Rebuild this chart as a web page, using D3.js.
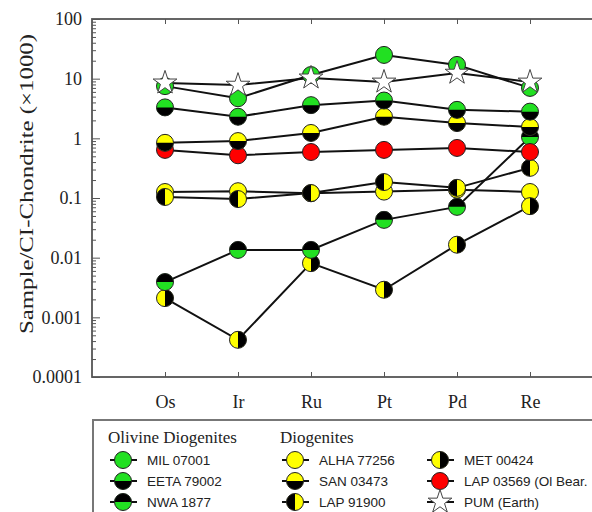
<!DOCTYPE html>
<html>
<head>
<meta charset="utf-8">
<style>
  body { margin: 0; background: #fff; }
  svg { display: block; }
</style>
</head>
<body>
<svg width="592" height="512"></svg>
<script src="https://d3js.org/d3.v7.min.js"></script>
<script>

// element order (x categories)
const elements = ["Os", "Ir", "Ru", "Pt", "Pd", "Re"];
const yTickValues = [0.0001, 0.001, 0.01, 0.1, 1, 10, 100];
const yTickLabels = ["0.0001", "0.001", "0.01", "0.1", "1", "10", "100"];

// values (sample / CI chondrite x1000)
const mil07001 = [7.5, 4.7, 11.5, 25, 17, 7];
const eeta79002 = [3.3, 2.3, 3.6, 4.3, 3.0, 2.8];
const nwa1877 = [0.0039, 0.0135, 0.0135, 0.043, 0.071, 1.05];
const alha77256 = [0.126, 0.13, 0.12, 0.128, 0.138, 0.126];
const san03473 = [0.84, 0.9, 1.23, 2.3, 1.8, 1.55];
const lap91900 = [0.104, 0.096, 0.121, 0.185, 0.148, 0.32];
const met00424 = [0.0021, 0.00042, 0.0081, 0.0029, 0.0165, 0.073];
const lap03569 = [0.64, 0.52, 0.59, 0.64, 0.69, 0.59];
const pum = [8.5, 7.8, 10.3, 8.8, 12.4, 8.8];

const GREEN = "#22e022", YELLOW = "#ffff00", RED = "#ff0000", BLACK = "#000";

// marker styles: base fill + optional half in another colour
const series = [
  {name: "ALHA 77256", values: alha77256, fill: YELLOW},
  {name: "MET 00424", values: met00424, fill: YELLOW, half: "right", halfFill: BLACK},
  {name: "LAP 91900", values: lap91900, fill: YELLOW, half: "left", halfFill: BLACK},
  {name: "NWA 1877", values: nwa1877, fill: GREEN, half: "top", halfFill: BLACK},
  {name: "LAP 03569 (Ol Bear.", values: lap03569, fill: RED},
  {name: "SAN 03473", values: san03473, fill: YELLOW, half: "bottom", halfFill: BLACK},
  {name: "EETA 79002", values: eeta79002, fill: GREEN, half: "bottom", halfFill: BLACK},
  {name: "MIL 07001", values: mil07001, fill: GREEN},
  {name: "PUM (Earth)", values: pum, star: true}
];
const byName = {};
series.forEach(s => byName[s.name] = s);

// legend layout: [title, names]
const legendCols = [
  {title: "Olivine Diogenites", names: ["MIL 07001", "EETA 79002", "NWA 1877"]},
  {title: "Diogenites", names: ["ALHA 77256", "SAN 03473", "LAP 91900"]},
  {title: null, names: ["MET 00424", "LAP 03569 (Ol Bear.", "PUM (Earth)"]}
];

const pLeft = 92, pTop = 19, pRight = 603, pBottom = 377;
const R = 8.5;

let svg = d3.select("svg");

let x = d3.scaleLinear().domain([0, elements.length + 1]).range([pLeft, pRight]);
let y = d3.scaleLog().domain([0.0001, 100]).range([pBottom, pTop]);

// half circle path
function halfPath(side, r) {
  if (side === "top") return `M${-r},0A${r},${r} 0 0 1 ${r},0Z`;
  if (side === "bottom") return `M${-r},0A${r},${r} 0 0 0 ${r},0Z`;
  if (side === "left") return `M0,${-r}A${r},${r} 0 0 0 0,${r}Z`;
  return `M0,${-r}A${r},${r} 0 0 1 0,${r}Z`;
}
const starPath = d3.symbol().type(d3.symbolStar).size(175)();

function drawMarker(g, s) {
  if (s.star) {
    g.append("path").attr("d", starPath)
      .attr("fill", "#fff").attr("stroke", "#444").attr("stroke-width", 1);
    return;
  }
  g.append("circle").attr("r", R).attr("fill", s.fill);
  if (s.half) g.append("path").attr("d", halfPath(s.half, R)).attr("fill", s.halfFill);
  g.append("circle").attr("r", R).attr("fill", "none")
    .attr("stroke", "#222").attr("stroke-width", 1);
}

// frame
svg.append("rect")
  .attr("x", pLeft).attr("y", pTop)
  .attr("width", pRight - pLeft).attr("height", pBottom - pTop)
  .attr("fill", "none").attr("stroke", "#555").attr("stroke-width", 1.8);

// left axis, ticks inward
let minorVals = y.ticks().filter(v => yTickValues.indexOf(v) < 0);
svg.append("g")
  .attr("transform", `translate(${pLeft},0)`)
  .call(d3.axisLeft(y).tickValues(minorVals).tickSize(-4).tickFormat(""))
  .call(g => g.select(".domain").remove())
  .selectAll("line").attr("stroke", "#555");

let yAxis = svg.append("g")
  .attr("transform", `translate(${pLeft},0)`)
  .call(d3.axisLeft(y).tickValues(yTickValues).tickSize(-8).tickPadding(10)
    .tickFormat((d, i) => yTickLabels[i]));
yAxis.select(".domain").remove();
yAxis.selectAll("line").attr("stroke", "#555");
yAxis.selectAll("text")
  .attr("font-family", "Liberation Serif, Times New Roman, serif")
  .attr("font-size", 18).attr("fill", "#222");

// category ticks top and bottom
let idx = elements.map((e, i) => i + 1);
let xAxis = svg.append("g")
  .attr("transform", `translate(0,${pBottom})`)
  .call(d3.axisBottom(x).tickValues(idx).tickSize(-5).tickPadding(18)
    .tickFormat((d) => elements[d - 1]));
xAxis.select(".domain").remove();
xAxis.selectAll("line").attr("stroke", "#555");
xAxis.selectAll("text")
  .attr("font-family", "Liberation Serif, Times New Roman, serif")
  .attr("font-size", 18).attr("fill", "#222");

let xTop = svg.append("g")
  .attr("transform", `translate(0,${pTop})`)
  .call(d3.axisTop(x).tickValues(idx).tickSize(-5).tickFormat(""));
xTop.select(".domain").remove();
xTop.selectAll("line").attr("stroke", "#555");

// y title
svg.append("text")
  .attr("transform", "translate(33,184) rotate(-90)")
  .attr("text-anchor", "middle")
  .attr("font-family", "Liberation Serif, Times New Roman, serif")
  .attr("font-size", 19).attr("fill", "#222")
  .attr("textLength", 300).attr("lengthAdjust", "spacingAndGlyphs")
  .text("Sample/CI-Chondrite (\u00d71000)");

// lines
let line = d3.line().x((d, i) => x(i + 1)).y(d => y(d));
svg.append("g").selectAll("path").data(series).enter().append("path")
  .attr("d", s => line(s.values))
  .attr("fill", "none").attr("stroke", "#111").attr("stroke-width", 2);

// markers
series.forEach(s => {
  let g = svg.append("g");
  s.values.forEach((v, i) => {
    drawMarker(g.append("g").attr("transform", `translate(${x(i + 1)},${y(v)})`), s);
  });
});

// legend
svg.append("rect")
  .attr("x", 93).attr("y", 420).attr("width", 540).attr("height", 140)
  .attr("fill", "none").attr("stroke", "#777").attr("stroke-width", 2);

const colX = [123, 295, 440];
const rowY = [460, 481, 502];
legendCols.forEach((col, c) => {
  let cx = colX[c];
  if (col.title) {
    svg.append("text")
      .attr("x", cx - 15).attr("y", 443)
      .attr("font-family", "Liberation Serif, Times New Roman, serif")
      .attr("font-size", 17).attr("fill", "#222")
      .text(col.title);
  }
  col.names.forEach((n, r) => {
    let s = byName[n];
    let g = svg.append("g").attr("transform", `translate(${cx},${rowY[r]})`);
    g.append("line").attr("x1", -13).attr("x2", 14)
      .attr("stroke", "#111").attr("stroke-width", 2);
    drawMarker(g, s);
    svg.append("text")
      .attr("x", cx + 24).attr("y", rowY[r])
      .attr("dy", "0.35em")
      .attr("font-family", "Liberation Sans, Arial, sans-serif")
      .attr("font-size", 13.5).attr("fill", "#222")
      .text(n);
  });
});
</script>
</body>
</html>
